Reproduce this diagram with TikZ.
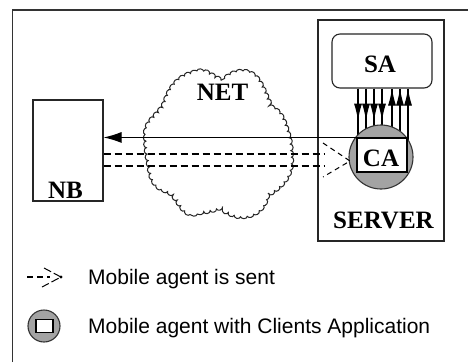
\documentclass[tikz,border=0pt]{standalone}
\usepackage{fontspec}
\setmainfont{Liberation Serif}
\setsansfont{Liberation Sans}
\usetikzlibrary{arrows.meta,decorations.pathmorphing,calc}
\definecolor{agentgrey}{gray}{0.64}
\tikzset{
  frameline/.style={line width=1.8bp, draw=black!80},
  boxline/.style={line width=1.1bp, draw=black!85},
  lbl/.style={font=\fontsize{25bp}{30bp}\selectfont\bfseries, inner sep=0pt, anchor=base},
  legendtext/.style={font=\sffamily\fontsize{21bp}{25bp}\selectfont, inner sep=0pt, anchor=base west},
  link/.style={line width=1.1bp, draw=black},
  sentline/.style={line width=1.2bp, draw=black, dash pattern=on 7bp off 4bp},
  sentchev/.style={line width=1bp, draw=black, dash pattern=on 5bp off 4bp},
  tipdown/.style={-{Latex[length=17bp,width=8bp]}},
  tipup/.style={{Latex[length=17bp,width=8bp]}-},
}
\begin{document}
\begin{tikzpicture}[x=1bp,y=-1bp]
  \useasboundingbox (0,0) rectangle (468,362);
  \fill[white] (0,0) rectangle (468,362);

  % outer frame (left and top edges)
  \draw[frameline] (12.5,362) -- (12.5,10) -- (468,10);

  % notebook
  \node[boxline, rectangle, minimum width=70bp, minimum height=101bp, inner sep=0pt] (nb) at (68,150.5) {};
  \node[lbl] (nblbl) at (65.5,198) {NB};

  % network cloud
  \draw[boxline, line width=1bp,
        decoration={bumps, mirror, segment length=13bp, amplitude=2.6bp}, decorate]
    (221,80) to[out=160,in=10] (198,72) to[out=190,in=70] (166,100)
    to[out=250,in=90] (146,135) to[out=270,in=100] (150,170)
    to[out=280,in=160] (165,190) to[out=-20,in=190] (195,213)
    to[out=10,in=200] (218,208) to[out=-20,in=180] (242,216)
    to[out=0,in=260] (267,195) to[out=30,in=270] (291,160)
    to[out=90,in=-70] (285,125) to[out=110,in=-30] (272,108)
    to[out=120,in=0] (242,72) to[out=180,in=20] cycle;
  \node[lbl] (netlbl) at (222.5,100) {NET};

  % server
  \node[boxline, rectangle, minimum width=126bp, minimum height=221bp, inner sep=0pt] (server) at (381,130.5) {};
  \node[lbl] (serverlbl) at (383.5,228) {SERVER};
  \node[boxline, rectangle, rounded corners=8bp, minimum width=100bp, minimum height=54bp, inner sep=0pt] (sa) at (382,61) {};
  \node[lbl] (salbl) at (380,72) {SA};

  % links between SA and the client agent
  \foreach \dx in {-24,-16,-8,0} {
    \draw[link] ([xshift=\dx bp]sa.south) -- ++(0,52);
    \draw[link,tipdown] ([xshift=\dx bp]sa.south) -- ++(0,32);
  }
  \foreach \dx in {10,18,26} {
    \draw[link] ([xshift=\dx bp]sa.south) -- ++(0,52);
    \draw[link,tipup] ([xshift=\dx bp]sa.south) -- ++(0,38);
  }

  % mobile agent carrying the client application
  \node[circle, draw=black!80, line width=1.1bp, fill=agentgrey, minimum size=64bp, inner sep=0pt] (ca) at (381,157) {};
  \node[rectangle, draw=black, line width=1.1bp, fill=white, minimum width=50bp, minimum height=34bp, inner sep=0pt] (cabox) at (382,155) {};
  \node[lbl] (calbl) at (381,166) {CA};

  % reply from the client agent to the notebook
  \draw[link, {Latex[length=18bp,width=11bp]}-] (nb.east |- cabox.north west) -- (cabox.north west);

  % agents being sent
  \coordinate (tipca) at (350,161);
  \draw[sentline] (nb.east |- 0,154) -- (325,154);
  \draw[sentline] (nb.east |- 0,166) -- (325,166);
  \draw[sentchev] (323,143) -- (tipca) -- (323,177);

  % legend
  \coordinate (legtip) at (61,277);
  \draw[sentline, dash pattern=on 6bp off 4bp] (27,277) -- (50,277);
  \draw[sentchev, dash pattern=on 8bp off 3bp] (44,268) -- (legtip) -- (42,287);
  \fill (legtip) circle (1.6bp);
  \node[legendtext] (leg1) at (88,284) {Mobile agent is sent};

  \node[circle, draw=black!80, line width=1.1bp, fill=agentgrey, minimum size=32bp, inner sep=0pt] (legca) at (44,326) {};
  \node[rectangle, draw=black, line width=1.1bp, fill=white, minimum width=17bp, minimum height=13bp, inner sep=0pt] (legbox) at (44.5,326) {};
  \node[legendtext] (leg2) at (88,333) {Mobile agent with Clients Application};
\end{tikzpicture}
\end{document}
